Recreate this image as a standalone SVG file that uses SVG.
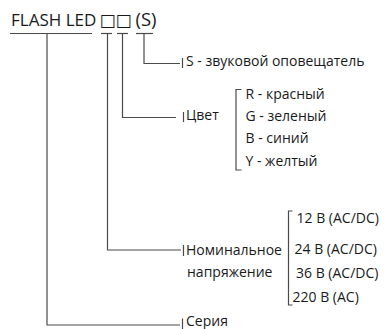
<svg xmlns="http://www.w3.org/2000/svg" width="385" height="329" viewBox="0 0 385 329">
<style>
.ln{stroke:#4a4a4a;stroke-width:1.2;fill:none}
.t{font-family:"Open Sans","Liberation Sans",sans-serif;font-size:14px;fill:#1a1a1a}
.title{font-family:"Open Sans","Liberation Sans","DejaVu Sans",sans-serif;font-size:17px;fill:#1a1a1a}
.box{font-family:"DejaVu Sans",sans-serif;font-size:17px}
</style>
<rect width="385" height="329" fill="#ffffff"/>
<g id="title">
<text class="title" x="11" y="26">FLASH LED<tspan class="box" x="99.5">□</tspan><tspan class="box" x="115.5">□</tspan><tspan x="135.5" font-size="18.5">(S)</tspan></text>
</g>
<g id="connectors">
<line class="ln" x1="10" y1="33.5" x2="92" y2="33.5"/>
<line class="ln" x1="101" y1="33.5" x2="112" y2="33.5"/>
<line class="ln" x1="117" y1="33.5" x2="128" y2="33.5"/>
<line class="ln" x1="136" y1="33.5" x2="153" y2="33.5"/>
<polyline class="ln" points="144,33.5 144,63.5 180,63.5"/>
<polyline class="ln" points="122.5,33.5 122.5,117.5 176,117.5"/>
<polyline class="ln" points="107.5,33.5 107.5,250 181,250"/>
<polyline class="ln" points="47,33.5 47,325 180,325"/>
<line class="ln" x1="182.5" y1="58" x2="182.5" y2="68"/>
<line class="ln" x1="183.5" y1="112" x2="183.5" y2="122"/>
<line class="ln" x1="183.5" y1="245" x2="183.5" y2="256"/>
<line class="ln" x1="182.5" y1="318.5" x2="182.5" y2="329"/>
<polyline class="ln" points="241.5,89.5 236,89.5 236,170 241.5,170"/>
<polyline class="ln" points="292.5,211 288.5,211 288.5,305 292.5,305"/>
</g>
<g id="sound">
<text class="t" x="186" y="66">S - звуковой оповещатель</text>
</g>
<g id="color">
<text class="t" x="186" y="120">Цвет</text>
<text class="t" x="245.5" y="99">R - красный</text>
<text class="t" x="245.5" y="121">G - зеленый</text>
<text class="t" x="245.5" y="143">B - синий</text>
<text class="t" x="245.5" y="166">Y - желтый</text>
</g>
<g id="voltage">
<text class="t" x="186" y="254.5">Номинальное</text>
<text class="t" x="187" y="277">напряжение</text>
<text class="t" x="296.5" y="223">12 В (AC/DC)</text>
<text class="t" x="294.5" y="254">24 В (AC/DC)</text>
<text class="t" x="296" y="277.5">36 В (AC/DC)</text>
<text class="t" x="292.5" y="301.5">220 В (AC)</text>
</g>
<g id="series">
<text class="t" x="186" y="325.5">Серия</text>
</g>
</svg>
